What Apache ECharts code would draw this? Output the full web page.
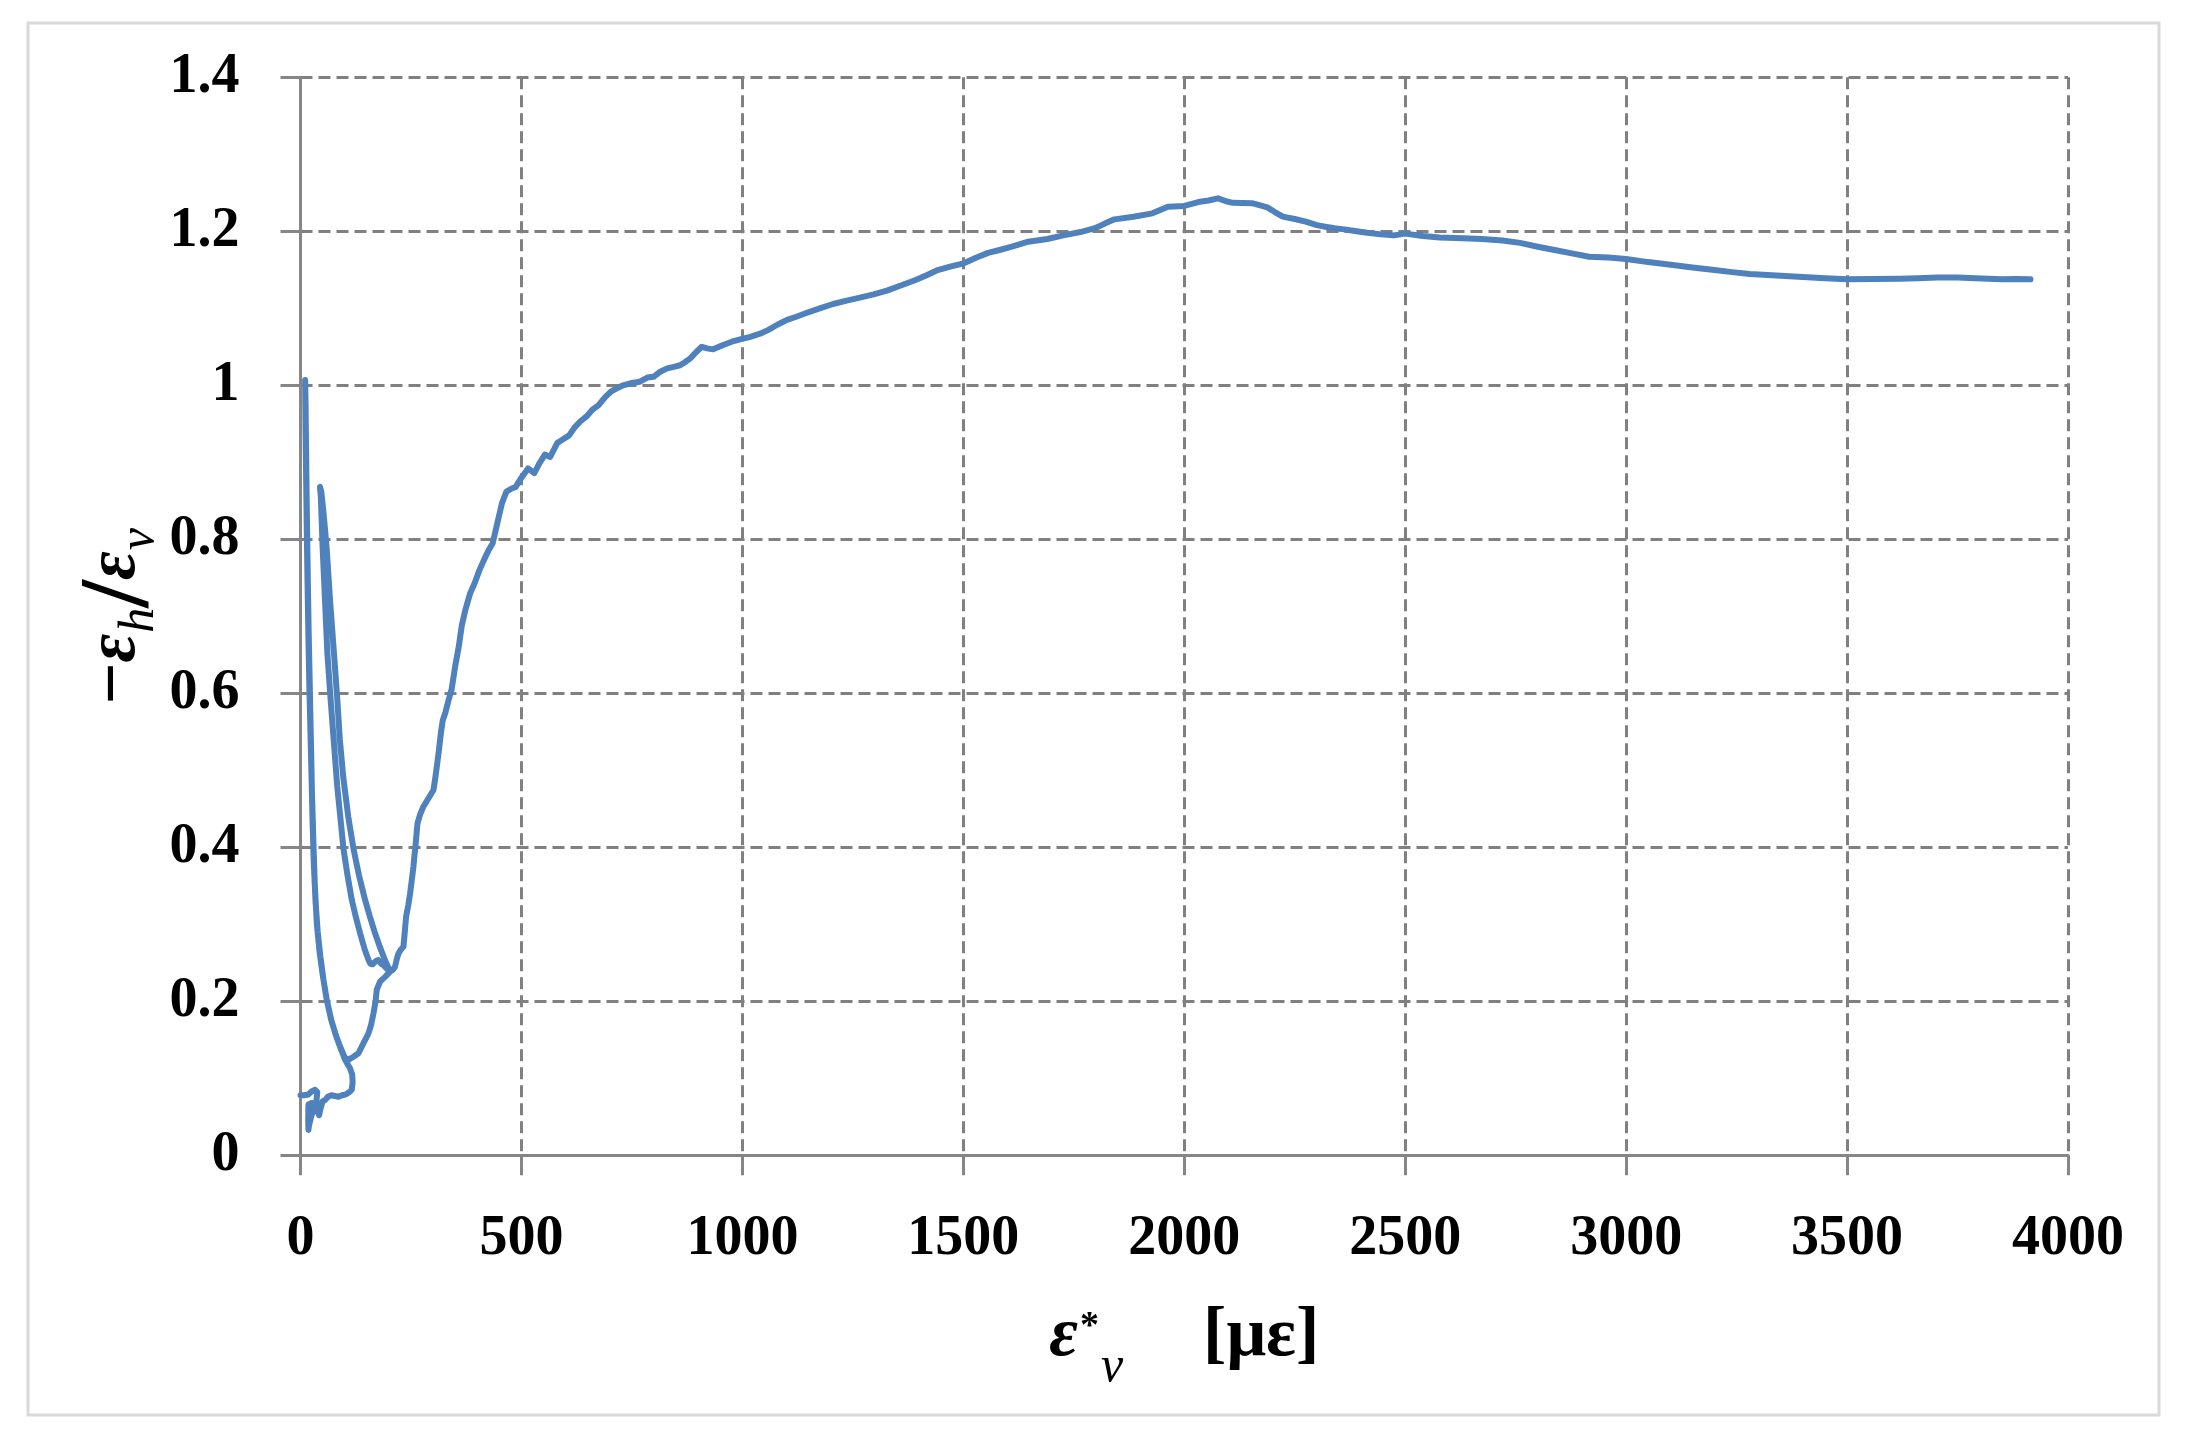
<!DOCTYPE html>
<html>
<head>
<meta charset="utf-8">
<script src="https://cdn.jsdelivr.net/npm/echarts@6/dist/echarts.min.js"></script>
<style>
html,body{margin:0;padding:0;background:#fff;}
#chart{width:2188px;height:1445px;}
</style>
</head>
<body>
<div id="chart"></div>
<script>
// ---- data (x = ε*v [με], y = -εh/εv) ----
const initialPath = [[0,0.078],[8,0.078],[18,0.079],[25,0.083],[33,0.085],[38,0.082],[36,0.070],[30,0.060],[24,0.050],[19,0.038],[18,0.033],[17.5,0.045],[17.7,0.060],[18,0.066],[25,0.068],[30,0.067],[38,0.058],[42,0.052],[45,0.060],[50,0.070],[56,0.072],[62,0.076],[70,0.078],[78,0.077],[86,0.076],[94,0.078],[102,0.079],[110,0.082],[116,0.085],[118,0.095],[117,0.105],[112,0.113],[105,0.120]];
const cycle1Unload = [[101,0.124],[90,0.140],[80,0.156],[70,0.175],[60,0.200],[52,0.228],[45,0.258],[39,0.290],[34,0.330],[30,0.380],[27.5,0.430],[25,0.490],[22.5,0.550],[20,0.610],[18,0.670],[16,0.740],[14,0.820],[12.5,0.890],[11.2,0.950],[10.5,1.007]];
const cycle1Reload = [[11.5,0.975],[12.8,0.910],[14.5,0.830],[16.5,0.750],[18.5,0.680],[21,0.610],[23.5,0.540],[26,0.470],[29,0.410],[32.5,0.350],[37,0.300],[43,0.265],[50,0.235],[59,0.203],[69,0.177],[79,0.158],[89,0.142],[100,0.127],[108,0.124]];
const risingToCycle2 = [[120,0.128],[131,0.1325],[142,0.145],[153.6,0.158],[160,0.170],[165,0.184],[170,0.200],[172.5,0.215],[180,0.2255],[192,0.232],[202.7,0.2385]];
const cycle2Unload = [[197,0.246],[191,0.2536],[180,0.270],[169,0.288],[157,0.310],[146,0.332],[133,0.362],[119.6,0.399],[108,0.440],[97,0.490],[89,0.540],[83.4,0.591],[76,0.650],[67,0.720],[59,0.790],[52,0.835],[47,0.862],[44,0.868]];
const cycle2Reload = [[46,0.855],[50,0.790],[55.5,0.720],[61,0.650],[68.3,0.591],[75,0.540],[83,0.480],[90,0.440],[97,0.399],[106,0.365],[116,0.332],[125,0.310],[135,0.288],[145,0.268],[154,0.2536],[158,0.249],[163,0.248],[170,0.252],[176,0.2536],[182,0.249],[188,0.247],[196,0.242],[202.7,0.2385]];
const mainCurve = [[209,0.241],[214,0.245],[218,0.255],[221.6,0.262],[227,0.267],[233,0.271],[236,0.290],[239,0.310],[244,0.325],[248,0.340],[252,0.358],[255.6,0.375],[258,0.390],[260,0.400],[264.7,0.431],[271,0.443],[278,0.4527],[290,0.464],[301,0.4744],[305,0.490],[308.6,0.505],[313,0.525],[318,0.550],[322,0.565],[328,0.575],[335,0.591],[342,0.605],[350,0.635],[358,0.660],[365,0.688],[373,0.708],[384,0.730],[394,0.743],[405,0.760],[415,0.773],[425,0.785],[435,0.795],[445,0.820],[456,0.847],[466,0.862],[478,0.866],[487,0.868],[500,0.880],[515,0.892],[529,0.886],[540,0.898],[553,0.910],[565,0.907],[581,0.925],[597,0.931],[608,0.935],[620,0.945],[633,0.953],[648,0.960],[660,0.968],[674,0.974],[690,0.985],[703,0.992],[716,0.996],[730,1.000],[750,1.003],[768,1.0047],[785,1.010],[799,1.011],[815,1.018],[830,1.022],[845,1.024],[859,1.026],[870,1.030],[882,1.035],[895,1.043],[908,1.050],[920,1.048],[934,1.0467],[955,1.052],[976,1.0566],[997,1.060],[1018,1.063],[1040,1.067],[1059,1.072],[1080,1.079],[1101,1.085],[1122,1.089],[1143,1.0935],[1175,1.100],[1205,1.1056],[1236,1.110],[1266,1.1138],[1297,1.118],[1327,1.123],[1360,1.130],[1392,1.1367],[1417,1.143],[1442,1.1497],[1470,1.154],[1501,1.1584],[1530,1.166],[1556,1.172],[1582,1.1757],[1610,1.180],[1647,1.1865],[1690,1.190],[1729,1.195],[1765,1.199],[1798,1.204],[1820,1.210],[1842,1.2155],[1885,1.219],[1928,1.2233],[1963,1.232],[2000,1.233],[2032,1.238],[2055,1.240],[2076,1.2428],[2095,1.239],[2110,1.237],[2153,1.2365],[2170,1.234],[2188,1.231],[2205,1.225],[2223,1.219],[2250,1.216],[2275,1.2125],[2300,1.208],[2319,1.206],[2340,1.204],[2362,1.2025],[2390,1.200],[2414,1.198],[2445,1.196],[2474,1.1947],[2500,1.197],[2540,1.194],[2578,1.192],[2630,1.191],[2674,1.190],[2720,1.188],[2760,1.185],[2800,1.180],[2838,1.1757],[2880,1.171],[2916,1.167],[2960,1.166],[3000,1.164],[3050,1.160],[3110,1.156],[3150,1.153],[3195,1.150],[3240,1.147],[3280,1.1445],[3330,1.143],[3390,1.1411],[3450,1.139],[3500,1.1376],[3560,1.138],[3620,1.1385],[3660,1.139],[3705,1.140],[3750,1.140],[3790,1.139],[3850,1.1376],[3880,1.138],[3915,1.1376]];

const xRange = [0, 4000, 500];   // min, max, interval
const yRange = [0, 1.4, 0.2];

const curve = [].concat(initialPath, cycle1Unload, cycle1Reload, risingToCycle2, cycle2Unload, cycle2Reload, mainCurve);

const FONT = 'Liberation Serif';
const chart = echarts.init(document.getElementById('chart'), null, {renderer: 'canvas'});
const gridStyle = {type: [12, 6], color: '#808080', width: 3};
const axisStyle = {color: '#868686', width: 3};

chart.setOption({
  backgroundColor: '#ffffff',
  animation: false,
  grid: {left: 300.5, top: 77.3, width: 1767.5, height: 1078, containLabel: false, outerBoundsMode: 'none'},
  xAxis: {
    type: 'value', min: xRange[0], max: xRange[1], interval: xRange[2],
    axisLine: {show: true, onZero: false, lineStyle: axisStyle},
    axisTick: {show: true, inside: false, length: 20, lineStyle: axisStyle},
    splitLine: {show: true, lineStyle: gridStyle},
    axisLabel: {fontFamily: FONT, fontWeight: 'bold', fontSize: 56, color: '#000', margin: 56,
      formatter: function (v) { return String(v); }},
    name: '{e|ε}{sup|*}{sub|v}{gap| }{u|[με]}',
    nameLocation: 'middle', nameGap: 125, nameMoveOverlap: false,
    nameTextStyle: {
      color: '#000', fontFamily: FONT,
      rich: {
        e: {fontFamily: FONT, fontWeight: 'bold', fontStyle: 'italic', fontSize: 70, color: '#000'},
        sup: {fontFamily: FONT, fontWeight: 'bold', fontSize: 38, color: '#000', padding: [0, 0, 20, 2]},
        sub: {fontFamily: FONT, fontStyle: 'italic', fontSize: 50, color: '#000', padding: [63, 0, 0, 2]},
        gap: {fontFamily: FONT, fontSize: 70, width: 80},
        u: {fontFamily: FONT, fontWeight: 'bold', fontSize: 70, color: '#000'}
      }
    }
  },
  yAxis: {
    type: 'value', min: yRange[0], max: yRange[1], interval: yRange[2],
    axisLine: {show: true, onZero: false, lineStyle: axisStyle},
    axisTick: {show: true, inside: false, length: 20, lineStyle: axisStyle},
    splitLine: {show: true, lineStyle: gridStyle},
    axisLabel: {fontFamily: FONT, fontWeight: 'bold', fontSize: 56, color: '#000', margin: 61},
    name: '{m|−}{e|ε}{sub|h}{sl|/}{e|ε}{sub|v}',
    nameLocation: 'middle', nameGap: 129, nameMoveOverlap: false,
    nameTextStyle: {
      color: '#000', fontFamily: FONT,
      rich: {
        m: {fontFamily: FONT, fontWeight: 'bold', fontSize: 74, color: '#000'},
        e: {fontFamily: FONT, fontWeight: 'bold', fontStyle: 'italic', fontSize: 70, color: '#000'},
        sub: {fontFamily: FONT, fontStyle: 'italic', fontSize: 50, color: '#000', padding: [49, 0, 0, 1]},
        sl: {fontFamily: FONT, fontWeight: 'bold', fontSize: 100, color: '#000', padding: [12, 0, 0, 0]}
      }
    }
  },
  graphic: [{
    type: 'rect', z: -10, silent: true,
    shape: {x: 28, y: 23, width: 2131, height: 1392},
    style: {fill: 'none', stroke: '#d9d9d9', lineWidth: 3}
  }],
  series: [{
    type: 'line',
    data: curve,
    showSymbol: false,
    symbol: 'none',
    smooth: false,
    clip: false,
    lineStyle: {color: '#4f81bd', width: 6, join: 'round', cap: 'round'},
    z: 5
  }]
});
</script>
</body>
</html>
